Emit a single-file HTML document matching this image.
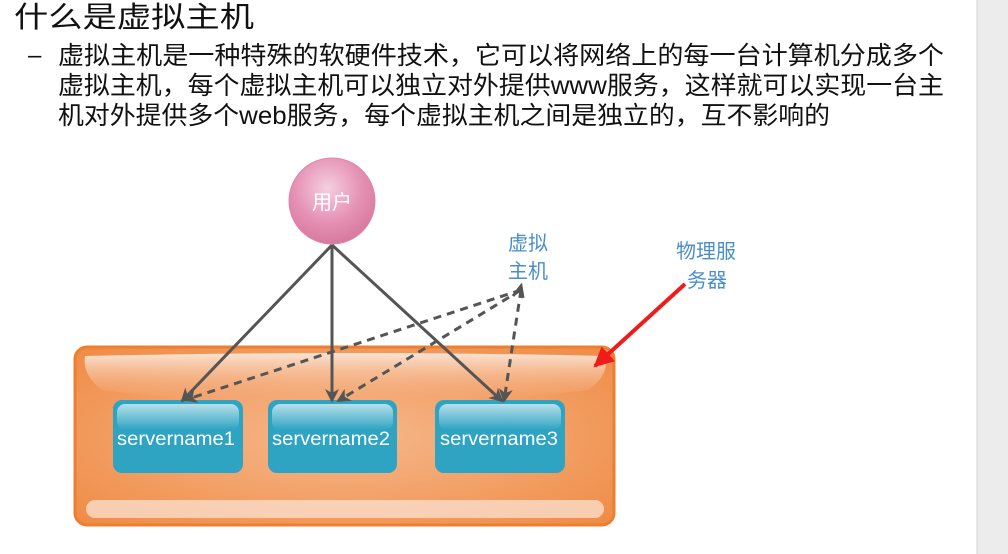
<!DOCTYPE html>
<html><head><meta charset="utf-8"><style>
html,body{margin:0;padding:0;background:#fff;width:1008px;height:554px;overflow:hidden}
svg{display:block}
</style></head><body>
<svg width="1008" height="554" viewBox="0 0 1008 554" xmlns="http://www.w3.org/2000/svg" font-family="'Liberation Sans','Noto Sans CJK SC',sans-serif">
<defs>
<radialGradient id="og" cx="0.5" cy="0.5" r="0.7">
<stop offset="0" stop-color="#f6b88c"/><stop offset="1" stop-color="#ef8b45"/></radialGradient>
<linearGradient id="hl" x1="0" y1="0" x2="0" y2="1"><stop offset="0" stop-color="#fbe3d3"/><stop offset="1" stop-color="#f3a878" stop-opacity="0"/></linearGradient>
<linearGradient id="bh" x1="0" y1="0" x2="0" y2="1"><stop offset="0" stop-color="#b6e0ea"/><stop offset="1" stop-color="#2ea3c2"/></linearGradient>
<radialGradient id="pk" cx="0.45" cy="0.35" r="0.65"><stop offset="0" stop-color="#f5cfe0"/><stop offset="0.6" stop-color="#e592b4"/><stop offset="1" stop-color="#d8799f"/></radialGradient>
<marker id="ah" markerWidth="16" markerHeight="14" refX="12" refY="7" orient="auto" markerUnits="userSpaceOnUse"><path d="M0,0 L14,7 L0,14 L4,7Z" fill="#555"/></marker>
<marker id="rh" markerWidth="22" markerHeight="20" refX="18" refY="10" orient="auto" markerUnits="userSpaceOnUse"><path d="M0,0 L20,10 L0,20Z" fill="#f01b1b"/></marker>
</defs>
<rect x="977" y="0" width="31" height="554" fill="#ececec"/>
<line x1="977" y1="0" x2="977" y2="554" stroke="#d4d4d4"/>
<text x="14" y="27" font-size="29" fill="#111" textLength="240" lengthAdjust="spacingAndGlyphs">什么是虚拟主机</text>
<text x="28" y="63" font-size="24" fill="#111">–</text>
<text x="58" y="64" font-size="25" fill="#111" textLength="886" lengthAdjust="spacingAndGlyphs">虚拟主机是一种特殊的软硬件技术，它可以将网络上的每一台计算机分成多个</text>
<text x="58" y="94" font-size="25" fill="#111" textLength="886" lengthAdjust="spacingAndGlyphs">虚拟主机，每个虚拟主机可以独立对外提供www服务，这样就可以实现一台主</text>
<text x="58" y="124" font-size="25" fill="#111" textLength="772" lengthAdjust="spacingAndGlyphs">机对外提供多个web服务，每个虚拟主机之间是独立的，互不影响的</text>

<rect x="75" y="347" width="539" height="178" rx="12" fill="url(#og)" stroke="#ee7f30" stroke-width="3"/>
<path d="M85,356 Q345,350 605,356 Q610,375 588,390 Q345,420 102,390 Q82,375 85,356Z" fill="url(#hl)"/>
<rect x="86" y="500" width="518" height="18" rx="9" fill="#fbe2d2" opacity="0.75"/>

<g font-size="19" fill="#fff">
<rect x="113" y="400" width="130" height="73" rx="9" fill="#2ea3c2"/><rect x="117" y="404" width="122" height="26" rx="8" fill="url(#bh)"/>
<text x="117" y="445" textLength="118" lengthAdjust="spacingAndGlyphs">servername1</text>
<rect x="268" y="400" width="129" height="73" rx="9" fill="#2ea3c2"/><rect x="272" y="404" width="121" height="26" rx="8" fill="url(#bh)"/>
<text x="272" y="445" textLength="118" lengthAdjust="spacingAndGlyphs">servername2</text>
<rect x="435" y="400" width="130" height="73" rx="9" fill="#2ea3c2"/><rect x="439" y="404" width="122" height="26" rx="8" fill="url(#bh)"/>
<text x="440" y="445" textLength="118" lengthAdjust="spacingAndGlyphs">servername3</text>
</g>

<circle cx="332" cy="201" r="43" fill="url(#pk)" stroke="#e087ab"/>
<text x="332" y="209" font-size="20" fill="#fff" text-anchor="middle">用户</text>

<g stroke="#555" stroke-width="3" fill="none">
<line x1="332" y1="245" x2="182" y2="401" marker-end="url(#ah)"/>
<line x1="332" y1="245" x2="332" y2="401" marker-end="url(#ah)"/>
<line x1="332" y1="245" x2="502" y2="401" marker-end="url(#ah)"/>
<g stroke-dasharray="8,6">
<line x1="521" y1="290" x2="185" y2="400" marker-end="url(#ah)"/>
<line x1="521" y1="290" x2="338" y2="401" marker-end="url(#ah)"/>
<line x1="521" y1="290" x2="504" y2="401" marker-end="url(#ah)"/>
</g>
<path d="M513,296 L521,286 L523,298" stroke-dasharray="none" stroke-width="3"/>
</g>
<g font-size="20" fill="#4a90c8">
<text x="508" y="250">虚拟</text>
<text x="508" y="278">主机</text>
<text x="676" y="258">物理服</text>
<text x="687" y="287">务器</text>
</g>
<line x1="685" y1="284" x2="595" y2="366" stroke="#f01b1b" stroke-width="4" marker-end="url(#rh)"/>
</svg>
</body></html>
